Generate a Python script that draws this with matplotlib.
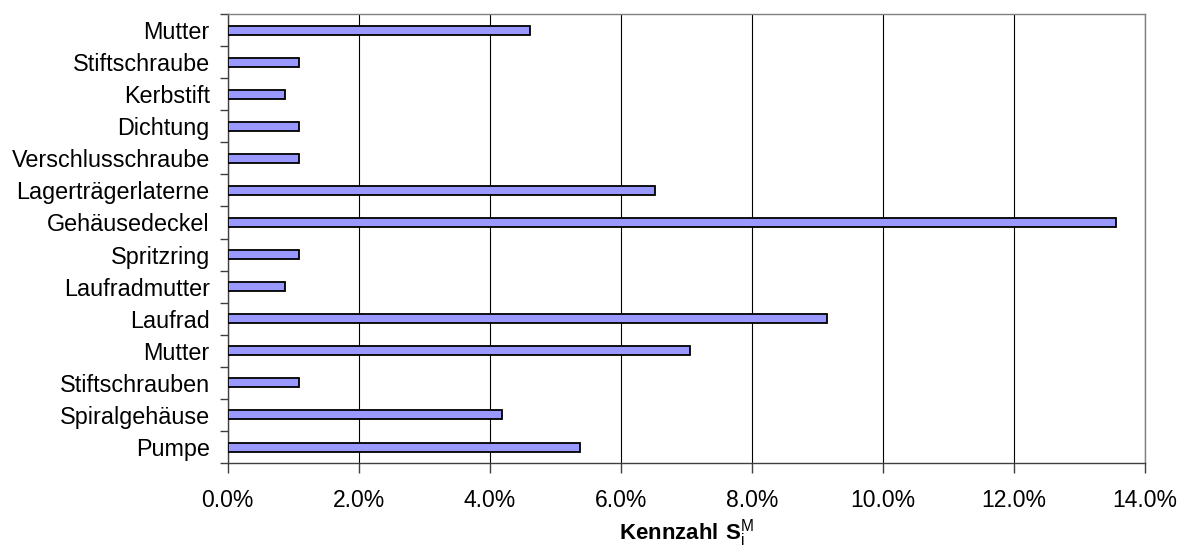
import matplotlib
matplotlib.use("Agg")
import matplotlib.pyplot as plt
from matplotlib.ticker import PercentFormatter, FixedLocator, NullFormatter

# Components, listed bottom to top
categories = [
    "Pumpe", "Spiralgehäuse", "Stiftschrauben", "Mutter", "Laufrad",
    "Laufradmutter", "Spritzring", "Gehäusedeckel", "Lagerträgerlaterne",
    "Verschlusschraube", "Dichtung", "Kerbstift", "Stiftschraube", "Mutter",
]
# Kennzahl S_i^M per component (fraction)
values = [
    0.0538, 0.0419, 0.0109, 0.0705, 0.0914,
    0.0088, 0.0109, 0.1356, 0.0652,
    0.0109, 0.0109, 0.0088, 0.0109, 0.0461,
]
x_ticks = [0.0, 0.02, 0.04, 0.06, 0.08, 0.10, 0.12, 0.14]

plt.rcParams["font.family"] = ["Liberation Sans", "DejaVu Sans"]
plt.rcParams["mathtext.fontset"] = "custom"
plt.rcParams["mathtext.rm"] = "Liberation Sans"
plt.rcParams["mathtext.bf"] = "Liberation Sans:bold"

fig = plt.figure(figsize=(11.86, 5.48), dpi=100)
ax = fig.add_axes([0.192, 0.155, 0.7734, 0.8195])

pos = list(range(len(categories)))
ax.barh(pos, values, height=0.28, color="#9999FF", edgecolor="black",
        linewidth=1.3, zorder=3)

ax.set_xlim(0, 0.14)
ax.set_ylim(-0.5, len(categories) - 0.5)

ax.xaxis.set_major_locator(FixedLocator(x_ticks))
ax.xaxis.set_major_formatter(PercentFormatter(1.0, decimals=1))
ax.grid(axis="x", color="black", linewidth=0.8, zorder=0)

# Category labels centred on bars, tick marks between categories
ax.set_yticks(pos)
ax.set_yticklabels(categories)
ax.tick_params(axis="y", which="major", length=0, pad=13, labelsize=16.8)
ax.set_yticks([p - 0.5 for p in pos] + [len(categories) - 0.5], minor=True)
ax.yaxis.set_minor_formatter(NullFormatter())
ax.tick_params(axis="y", which="minor", length=6, width=1, color="#404040",
               direction="out")
ax.tick_params(axis="x", length=7, width=1, color="#404040", pad=12,
               labelsize=16.5)

for side in ("left", "bottom"):
    ax.spines[side].set_color("#404040")
    ax.spines[side].set_linewidth(1.0)
for side in ("top", "right"):
    ax.spines[side].set_color("#808080")
    ax.spines[side].set_linewidth(1.0)

fig.text(0.5785, 1 - 533 / 548,
         r"$\mathbf{Kennzahl\ S}_{\mathrm{i}}^{\mathrm{M}}$",
         fontsize=16, ha="center", va="center")

fig.savefig("out.png", dpi=100)
